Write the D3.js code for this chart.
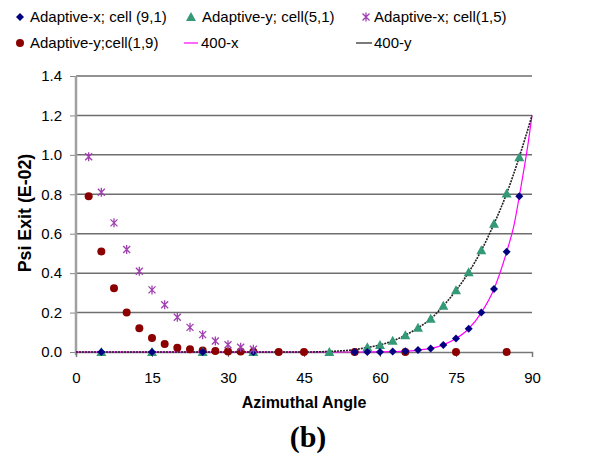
<!DOCTYPE html>
<html>
<head>
<meta charset="utf-8">
<script src="https://cdn.jsdelivr.net/npm/d3@7"></script>
<style>
  body { margin: 0; background: #fff; }
  text { font-family: "Liberation Sans", Arial, sans-serif; }
</style>
</head>
<body>
<svg id="chart" width="605" height="464"></svg>
<script>
// values (Psi exit, units E-02)
var xTicks = [0, 15, 30, 45, 60, 75, 90]
var yTicks = [0, 0.2, 0.4, 0.6, 0.8, 1.0, 1.2, 1.4]

var adxCell91Ang = [5, 15, 25, 35, 55, 57.5, 60, 62.5, 65, 67.5, 70, 72.5, 75, 77.5, 80, 82.5, 85, 87.5]
var adxCell91Val = [0, 0, 0, 0, 0, 0, 0, 0.002, 0.004, 0.01, 0.018, 0.036, 0.068, 0.118, 0.2, 0.32, 0.508, 0.79]

var adyCell51Ang = [5, 15, 25, 35, 50, 57.5, 60, 62.5, 65, 67.5, 70, 72.5, 75, 77.5, 80, 82.5, 85, 87.5]
var adyCell51Val = [0, 0, 0, 0, 0, 0.024, 0.036, 0.057, 0.085, 0.123, 0.169, 0.235, 0.313, 0.404, 0.516, 0.65, 0.804, 0.988]

var adxCell15Ang = [2.5, 5, 7.5, 10, 12.5, 15, 17.5, 20, 22.5, 25, 27.5, 30, 32.5, 35]
var adxCell15Val = [0.99, 0.81, 0.655, 0.52, 0.41, 0.315, 0.24, 0.176, 0.125, 0.088, 0.056, 0.037, 0.024, 0.014]

var adyCell19Ang = [2.5, 5, 7.5, 10, 12.5, 15, 17.5, 20, 22.5, 25, 27.5, 30, 32.5, 35, 40, 45, 55, 65, 75, 85]
var adyCell19Val = [0.79, 0.51, 0.323, 0.2, 0.12, 0.071, 0.04, 0.022, 0.014, 0.008, 0.005, 0.003, 0.002, 0.001, 0, 0, 0, 0, 0, 0]

var ref400xAng = [0, 10, 20, 30, 40, 50, 55, 60, 62.5, 65, 67.5, 70, 72.5, 75, 77.5, 80, 82.5, 85, 86.5, 87.5, 88.5, 89.3, 90]
var ref400xVal = [0, 0, 0, 0, 0, 0, 0, 0.001, 0.002, 0.004, 0.01, 0.018, 0.036, 0.068, 0.118, 0.2, 0.32, 0.508, 0.65, 0.79, 0.94, 1.07, 1.2]

var ref400yAng = [0, 10, 20, 30, 40, 45, 50, 55, 57.5, 60, 62.5, 65, 67.5, 70, 72.5, 75, 77.5, 80, 82.5, 85, 87.5, 90]
var ref400yVal = [0, 0, 0, 0, 0, 0, 0.003, 0.012, 0.023, 0.036, 0.056, 0.085, 0.122, 0.168, 0.234, 0.312, 0.404, 0.515, 0.65, 0.804, 0.99, 1.2]

function zip(a, v) { return a.map(function(d, i) { return {x: d, y: v[i]} }) }

var svg = d3.select('#chart')
var plotLeft = 76, plotRight = 532, plotTop = 76, plotBottom = 352

var x = d3.scaleLinear().domain([0, 90]).range([plotLeft, plotRight])
var y = d3.scaleLinear().domain([0, 1.4]).range([plotBottom, plotTop])

// gridlines
svg.append('g').selectAll('line').data(yTicks.slice(1)).enter().append('line')
    .attr('x1', plotLeft).attr('x2', plotRight)
    .attr('y1', function(d) { return y(d) }).attr('y2', function(d) { return y(d) })
    .attr('stroke', '#6e6e6e').attr('stroke-width', 1.5)

// y axis
var yAxis = svg.append('g').attr('transform', 'translate(' + plotLeft + ',0)')
    .call(d3.axisLeft(y).tickValues(yTicks).tickSize(6).tickFormat(d3.format('.1f')))
yAxis.select('.domain').remove()
yAxis.selectAll('.tick line').attr('stroke', '#888')
yAxis.selectAll('.tick text').attr('font-size', 15).attr('fill', '#000').attr('x', -14)
    .style('font-family', '"Liberation Sans", Arial, sans-serif')
svg.append('line').attr('x1', plotLeft).attr('x2', plotLeft).attr('y1', plotTop).attr('y2', plotBottom + 3)
    .attr('stroke', '#a0a0a0').attr('stroke-width', 2.5)

// x axis
var xAxis = svg.append('g').attr('transform', 'translate(0,' + plotBottom + ')')
    .call(d3.axisBottom(x).tickValues(xTicks).tickSize(5))
xAxis.select('.domain').attr('stroke', '#777').attr('stroke-width', 1.5)
xAxis.selectAll('.tick line').attr('stroke', '#777')
xAxis.selectAll('.tick text').attr('font-size', 15).attr('fill', '#000').attr('y', 20)
    .style('font-family', '"Liberation Sans", Arial, sans-serif')

// reference curves
var line = d3.line().x(function(d) { return x(d.x) }).y(function(d) { return y(d.y) })
    .curve(d3.curveMonotoneX)
svg.append('path').datum(zip(ref400xAng, ref400xVal)).attr('d', line)
    .attr('fill', 'none').attr('stroke', '#ff00ff').attr('stroke-width', 1.2)
svg.append('path').datum(zip(ref400yAng, ref400yVal)).attr('d', line)
    .attr('fill', 'none').attr('stroke', '#222').attr('stroke-width', 1.6)
    .attr('stroke-dasharray', '2,1')

// marker shapes
function diamond(g, cx, cy) {
    g.append('path').attr('d', 'M' + cx + ',' + (cy - 4) + 'L' + (cx + 4) + ',' + cy + 'L' + cx + ',' + (cy + 4) + 'L' + (cx - 4) + ',' + cy + 'Z')
        .attr('fill', '#000080')
}
function triangle(g, cx, cy) {
    g.append('path').attr('d', 'M' + cx + ',' + (cy - 5) + 'L' + (cx + 5) + ',' + (cy + 4) + 'L' + (cx - 5) + ',' + (cy + 4) + 'Z')
        .attr('fill', '#339977')
}
function star(g, cx, cy) {
    var s = 3.5
    g.append('path')
        .attr('d', 'M' + (cx - s) + ',' + (cy - s) + 'L' + (cx + s) + ',' + (cy + s) +
            'M' + (cx - s) + ',' + (cy + s) + 'L' + (cx + s) + ',' + (cy - s) +
            'M' + cx + ',' + (cy - s - 1) + 'L' + cx + ',' + (cy + s + 1))
        .attr('stroke', '#a040b0').attr('stroke-width', 1.3).attr('fill', 'none')
}
function dot(g, cx, cy) {
    g.append('circle').attr('cx', cx).attr('cy', cy).attr('r', 4).attr('fill', '#8b0000')
}

var pts = svg.append('g')
zip(adyCell19Ang, adyCell19Val).forEach(function(d) { dot(pts, x(d.x), y(d.y)) })
zip(adyCell51Ang, adyCell51Val).forEach(function(d) { triangle(pts, x(d.x), y(d.y)) })
zip(adxCell91Ang, adxCell91Val).forEach(function(d) { diamond(pts, x(d.x), y(d.y)) })
zip(adxCell15Ang, adxCell15Val).forEach(function(d) { star(pts, x(d.x), y(d.y)) })

// axis titles
svg.append('text').attr('x', (plotLeft + plotRight) / 2).attr('y', 408).attr('text-anchor', 'middle')
    .attr('font-size', 16).attr('font-weight', 'bold').text('Azimuthal Angle')
svg.append('text').attr('transform', 'translate(31,213) rotate(-90)')
    .attr('text-anchor', 'middle').attr('font-size', 17.8).attr('font-weight', 'bold').text('Psi Exit (E-02)')
svg.append('text').attr('x', 308).attr('y', 447).attr('text-anchor', 'middle')
    .attr('font-size', 30).attr('font-weight', 'bold')
    .style('font-family', '"Liberation Serif", "Times New Roman", serif').text('(b)')

// legend
var legend = svg.append('g')
var legendFont = 15
diamond(legend, 20, 17)
legend.append('text').attr('x', 30).attr('y', 22).attr('font-size', legendFont).text('Adaptive-x; cell (9,1)')
triangle(legend, 191, 17)
legend.append('text').attr('x', 202).attr('y', 22).attr('font-size', legendFont).text('Adaptive-y; cell(5,1)')
star(legend, 366, 17)
legend.append('text').attr('x', 374).attr('y', 22).attr('font-size', legendFont).text('Adaptive-x; cell(1,5)')
dot(legend, 20, 43)
legend.append('text').attr('x', 30).attr('y', 48).attr('font-size', legendFont).text('Adaptive-y;cell(1,9)')
legend.append('line').attr('x1', 184).attr('x2', 198).attr('y1', 43).attr('y2', 43)
    .attr('stroke', '#ff00ff').attr('stroke-width', 1.2)
legend.append('text').attr('x', 201).attr('y', 48).attr('font-size', legendFont).text('400-x')
legend.append('line').attr('x1', 356).attr('x2', 372).attr('y1', 43).attr('y2', 43)
    .attr('stroke', '#222').attr('stroke-width', 1.2)
legend.append('text').attr('x', 374).attr('y', 48).attr('font-size', legendFont).text('400-y')
</script>
</body>
</html>
